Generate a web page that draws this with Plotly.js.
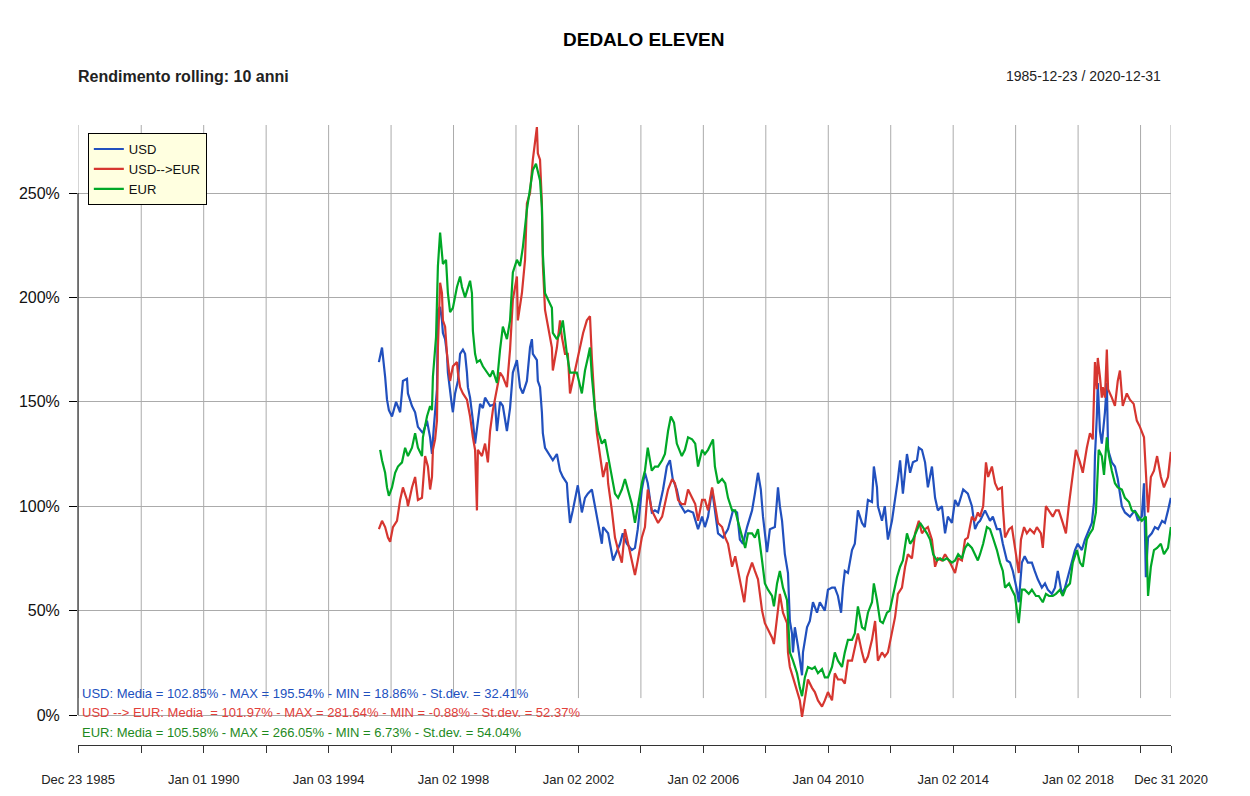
<!DOCTYPE html>
<html>
<head>
<meta charset="utf-8">
<script src="https://cdn.plot.ly/plotly-3.0.1.min.js"></script>
<style>
  body { margin: 0; background: #fff; }
  #chart { width: 1250px; height: 796px; }
</style>
</head>
<body>
<div id="chart"></div>
<script>
// Rendimento rolling 10 anni (in %), asse x in anni decimali
const usdYears = [1995.61,1995.71,1995.81,1995.87,1995.93,1996.03,1996.16,1996.29,1996.38,1996.51,1996.54,1996.67,1996.77,1996.86,1997.02,1997.15,1997.25,1997.31,1997.37,1997.47,1997.50,1997.57,1997.63,1997.66,1997.73,1997.79,1997.82,1997.89,1997.95,1997.98,1998.05,1998.14,1998.21,1998.30,1998.37,1998.43,1998.46,1998.53,1998.59,1998.62,1998.69,1998.75,1998.85,1998.94,1999.01,1999.17,1999.33,1999.39,1999.49,1999.58,1999.71,1999.81,1999.90,2000.03,2000.13,2000.22,2000.35,2000.45,2000.51,2000.54,2000.67,2000.70,2000.77,2000.83,2000.86,2000.93,2001.09,2001.18,2001.31,2001.41,2001.50,2001.63,2001.66,2001.73,2001.82,2001.95,2001.98,2002.11,2002.21,2002.30,2002.43,2002.53,2002.59,2002.75,2002.79,2002.95,2003.11,2003.23,2003.33,2003.42,2003.55,2003.71,2003.81,2003.90,2004.03,2004.13,2004.22,2004.35,2004.45,2004.55,2004.71,2004.83,2004.93,2005.02,2005.15,2005.25,2005.41,2005.51,2005.67,2005.83,2005.96,2006.05,2006.15,2006.28,2006.37,2006.47,2006.63,2006.79,2006.95,2007.08,2007.17,2007.27,2007.40,2007.56,2007.65,2007.75,2007.84,2007.91,2008.04,2008.13,2008.29,2008.39,2008.45,2008.52,2008.61,2008.71,2008.77,2008.84,2008.87,2008.93,2009.03,2009.16,2009.19,2009.32,2009.41,2009.51,2009.64,2009.73,2009.89,2009.99,2010.12,2010.21,2010.31,2010.41,2010.47,2010.53,2010.63,2010.76,2010.85,2010.95,2011.08,2011.17,2011.27,2011.40,2011.46,2011.56,2011.59,2011.72,2011.81,2011.91,2012.04,2012.14,2012.23,2012.30,2012.39,2012.52,2012.62,2012.71,2012.84,2012.90,2013.00,2013.10,2013.19,2013.32,2013.42,2013.51,2013.64,2013.74,2013.83,2013.96,2014.06,2014.16,2014.32,2014.47,2014.60,2014.70,2014.79,2014.86,2015.02,2015.18,2015.27,2015.40,2015.50,2015.59,2015.72,2015.82,2015.91,2016.04,2016.10,2016.20,2016.29,2016.39,2016.52,2016.61,2016.71,2016.84,2016.94,2017.03,2017.16,2017.26,2017.35,2017.48,2017.58,2017.67,2017.80,2017.90,2017.99,2018.12,2018.22,2018.31,2018.44,2018.51,2018.54,2018.60,2018.63,2018.70,2018.76,2018.86,2018.92,2018.96,2019.08,2019.18,2019.27,2019.40,2019.50,2019.66,2019.82,2019.92,2020.04,2020.11,2020.17,2020.24,2020.36,2020.46,2020.56,2020.69,2020.78,2020.88,2020.97];
const usdValues = [169,176,162,151,146,143,150,145,160,161,154,148,145,138,135,141,133,125,138,156,194,195.5,189,183,180,173,164,154,148,145,154,160,173,175,173,164,157,152,146,141,130,138,149,147,152,148,149,136,150,148,136,147,164,170,157,154,160,176,180,173,170,160,157,145,135,128,124,122,125,117,114,111,104,92,98,108,110,97,104,106,108,100,95,82,90,87,74,78,82,87,82,79,80,89,108,116,111,97,98,97,108,119,122,113,108,101,97,98,97,89,95,90,95,108,97,87,85,89,98,97,84,82,90,98,106,116,108,95,78,89,90,109,100,93,77,68,45,39,30,42,33,19,30,42,45,54,49,54,50,60,61,61,57,49,61,69,68,79,82,98,92,90,103,102,119,109,100,93,100,84,93,103,113,122,106,125,116,121,122,128,127,121,109,119,104,98,100,87,95,92,103,100,108,106,100,89,92,93,98,93,95,89,89,82,74,73,69,60,54,73,76,73,73,69,65,61,63,60,58,61,69,58,61,66,74,79,82,79,84,87,92,102,124,143,159,136,130,145,159,127,121,119,113,100,97,95,98,93,95,111,66,85,87,90,89,93,92,98,104];

const usdEurYears = [1995.61,1995.71,1995.81,1995.90,1995.97,1996.06,1996.19,1996.29,1996.38,1996.51,1996.54,1996.67,1996.77,1996.86,1996.99,1997.09,1997.18,1997.25,1997.31,1997.34,1997.41,1997.47,1997.50,1997.57,1997.63,1997.66,1997.73,1997.79,1997.89,1997.98,1998.11,1998.14,1998.21,1998.30,1998.43,1998.53,1998.62,1998.69,1998.75,1998.78,1998.91,1999.01,1999.10,1999.17,1999.26,1999.49,1999.58,1999.71,1999.81,1999.90,2000.03,2000.06,2000.19,2000.29,2000.35,2000.45,2000.54,2000.61,2000.67,2000.70,2000.77,2000.83,2000.86,2000.93,2001.02,2001.15,2001.18,2001.31,2001.41,2001.47,2001.57,2001.66,2001.73,2001.82,2001.98,2002.15,2002.27,2002.37,2002.43,2002.47,2002.53,2002.59,2002.69,2002.79,2002.91,2002.95,2003.07,2003.17,2003.27,2003.39,2003.49,2003.59,2003.71,2003.81,2003.90,2004.03,2004.13,2004.22,2004.35,2004.45,2004.55,2004.68,2004.77,2004.87,2005.00,2005.09,2005.19,2005.31,2005.41,2005.51,2005.64,2005.74,2005.83,2005.96,2006.05,2006.15,2006.28,2006.37,2006.47,2006.60,2006.70,2006.79,2006.92,2007.02,2007.12,2007.21,2007.31,2007.40,2007.56,2007.65,2007.75,2007.88,2007.97,2008.07,2008.13,2008.20,2008.26,2008.36,2008.45,2008.55,2008.68,2008.71,2008.77,2008.87,2009.00,2009.09,2009.16,2009.25,2009.35,2009.48,2009.57,2009.67,2009.80,2009.89,2009.99,2010.12,2010.21,2010.31,2010.44,2010.53,2010.63,2010.76,2010.85,2010.95,2011.08,2011.17,2011.27,2011.40,2011.50,2011.59,2011.72,2011.81,2011.91,2012.04,2012.14,2012.23,2012.36,2012.46,2012.55,2012.68,2012.78,2012.90,2013.00,2013.10,2013.19,2013.32,2013.42,2013.51,2013.64,2013.74,2013.90,2014.06,2014.16,2014.28,2014.38,2014.47,2014.60,2014.70,2014.79,2014.86,2014.96,2015.05,2015.12,2015.24,2015.34,2015.43,2015.56,2015.59,2015.66,2015.79,2015.88,2015.98,2016.10,2016.17,2016.27,2016.36,2016.46,2016.59,2016.68,2016.81,2016.87,2016.97,2017.07,2017.19,2017.29,2017.38,2017.51,2017.61,2017.70,2017.83,2017.93,2018.06,2018.15,2018.28,2018.38,2018.47,2018.54,2018.60,2018.63,2018.70,2018.76,2018.79,2018.86,2018.92,2018.96,2019.08,2019.18,2019.27,2019.34,2019.43,2019.56,2019.66,2019.78,2019.88,2019.98,2020.11,2020.17,2020.24,2020.33,2020.43,2020.53,2020.65,2020.75,2020.88,2020.97];
const usdEurValues = [89,93,90,85,83,90,93,103,109,103,100,109,114,103,104,124,119,108,114,127,132,141,176,207,202,189,186,173,160,167,169,164,157,154,151,143,133,127,98,127,124,130,121,136,146,164,162,157,175,199,210,189,202,218,245,250,266,274,281.6,269,266,245,216,194,186,176,165,176,189,181,173,173,154,160,171,183,189,191,171,159,146,135,124,114,121,111,98,85,79,73,89,82,73,67,74,85,90,108,98,95,92,95,101,108,113,111,103,101,101,108,104,101,93,103,103,98,109,101,92,90,85,82,71,76,69,61,54,66,73,69,65,50,44,41,39,37,34,48,58,49,44,30,23,18,11,7,-0.9,7,17,13,11,7,4,7,11,7,20,17,17,15,26,26,33,39,30,25,28,36,45,26,30,28,30,39,47,58,61,71,77,75,87,93,87,89,90,84,71,75,74,77,73,68,75,74,84,85,95,93,97,95,100,121,114,119,111,108,109,100,85,89,90,80,68,84,90,87,89,87,90,87,80,100,98,95,98,98,92,87,100,114,127,121,116,128,135,132,169,156,171,162,152,157,152,175,156,152,148,160,165,148,154,151,149,141,138,133,117,97,114,117,124,114,109,114,126];

const eurYears = [1995.65,1995.71,1995.81,1995.87,1995.93,1996.03,1996.13,1996.22,1996.35,1996.45,1996.54,1996.67,1996.77,1996.86,1996.99,1997.02,1997.15,1997.25,1997.31,1997.34,1997.44,1997.50,1997.57,1997.63,1997.66,1997.76,1997.82,1997.89,1997.98,1998.11,1998.21,1998.27,1998.37,1998.53,1998.59,1998.62,1998.69,1998.75,1998.85,1998.94,1999.07,1999.17,1999.26,1999.39,1999.49,1999.58,1999.71,1999.81,1999.90,2000.03,2000.13,2000.22,2000.35,2000.45,2000.54,2000.64,2000.70,2000.77,2000.83,2000.86,2000.93,2001.02,2001.15,2001.18,2001.31,2001.41,2001.50,2001.63,2001.73,2001.82,2001.95,2002.11,2002.21,2002.30,2002.37,2002.43,2002.53,2002.63,2002.75,2002.85,2002.95,2003.07,2003.17,2003.27,2003.39,2003.49,2003.59,2003.71,2003.81,2003.90,2004.03,2004.13,2004.22,2004.35,2004.45,2004.55,2004.68,2004.77,2004.87,2004.96,2005.06,2005.15,2005.31,2005.41,2005.51,2005.64,2005.74,2005.83,2005.96,2006.05,2006.15,2006.31,2006.37,2006.47,2006.60,2006.70,2006.79,2006.92,2007.02,2007.12,2007.24,2007.34,2007.43,2007.56,2007.65,2007.75,2007.88,2007.97,2008.07,2008.20,2008.26,2008.36,2008.45,2008.55,2008.68,2008.77,2008.87,2009.00,2009.09,2009.16,2009.25,2009.35,2009.48,2009.57,2009.67,2009.80,2009.89,2009.99,2010.12,2010.21,2010.31,2010.44,2010.53,2010.63,2010.76,2010.85,2010.95,2011.08,2011.17,2011.27,2011.40,2011.46,2011.56,2011.66,2011.75,2011.88,2011.97,2012.07,2012.20,2012.30,2012.39,2012.52,2012.62,2012.71,2012.84,2012.94,2013.03,2013.16,2013.26,2013.36,2013.48,2013.58,2013.68,2013.80,2013.96,2014.06,2014.16,2014.28,2014.38,2014.47,2014.60,2014.70,2014.79,2014.86,2014.96,2015.08,2015.18,2015.27,2015.40,2015.50,2015.59,2015.66,2015.79,2015.88,2015.98,2016.04,2016.10,2016.20,2016.29,2016.42,2016.52,2016.65,2016.74,2016.87,2016.97,2017.07,2017.19,2017.29,2017.42,2017.51,2017.61,2017.74,2017.83,2017.96,2018.06,2018.15,2018.28,2018.38,2018.47,2018.57,2018.63,2018.66,2018.76,2018.83,2018.92,2018.99,2019.08,2019.18,2019.27,2019.40,2019.50,2019.63,2019.72,2019.85,2019.94,2020.04,2020.17,2020.24,2020.33,2020.43,2020.53,2020.65,2020.75,2020.88,2020.97];
const eurValues = [127,122,116,109,105,109,116,119,121,128,124,128,135,128,124,133,143,148,146,162,181,215,231,221,216,218,202,193,195,205,210,205,200,208,202,184,173,169,170,167,164,162,165,159,175,186,180,189,212,218,215,224,242,253,261,264,260,256,243,221,202,199,195,183,180,183,189,173,164,164,164,154,165,171,176,162,146,136,130,132,124,113,106,104,108,113,108,101,92,100,111,117,128,117,119,119,122,125,136,143,140,130,124,127,133,132,130,119,127,125,127,132,119,111,113,111,104,98,98,92,85,80,87,87,85,89,74,63,60,57,52,63,69,61,55,30,26,20,13,9,18,23,22,23,20,22,18,18,23,30,26,23,30,36,36,39,52,42,41,49,54,63,55,45,44,49,50,57,66,71,74,87,82,84,89,92,90,87,84,77,74,75,74,75,73,74,77,75,80,82,80,77,74,77,82,90,89,85,79,73,69,61,63,60,57,50,44,60,60,58,60,57,57,54,58,57,57,58,60,57,61,63,73,79,73,71,84,87,89,97,116,127,124,115,133,124,117,111,109,108,104,102,98,97,95,93,95,57,71,79,80,82,77,80,90];

const seriesNames = ["USD", "USD-->EUR", "EUR"];
const lineColors = ["#2150BE", "#D63630", "#00A827"];
const statTexts = [
  "USD: Media = 102.85% - MAX = 195.54% - MIN = 18.86% - St.dev. = 32.41%",
  "USD --> EUR: Media  = 101.97% - MAX = 281.64% - MIN = -0.88% - St.dev. = 52.37%",
  "EUR: Media = 105.58% - MAX = 266.05% - MIN = 6.73% - St.dev. = 54.04%"
];
const statColors = ["#2150BE", "#E2403A", "#1E8A1E"];
const statLevels = [10.5, 1, -8.6];

// tick asse x: ogni 2 anni, etichetta ogni 4
const tickYears = [1985.975,1988,1990,1992,1994,1996,1998,2000,2002,2004,2006,2008,2010,2012,2014,2016,2018,2020,2020.975];
const tickLabels = ["Dec 23 1985","","Jan 01 1990","","Jan 03 1994","","Jan 02 1998","","Jan 02 2002","","Jan 02 2006","","Jan 04 2010","","Jan 02 2014","","Jan 02 2018","","Dec 31 2020"];
const yTicks = [0, 50, 100, 150, 200, 250];
const yLabels = ["0%", "50%", "100%", "150%", "200%", "250%"];

const xs = [usdYears, usdEurYears, eurYears];
const ys = [usdValues, usdEurValues, eurValues];

const traces = seriesNames.map(function(name, i) {
  return {
    x: xs[i],
    y: ys[i],
    name: name,
    type: "scatter",
    mode: "lines",
    line: { color: lineColors[i], width: 2.2 }
  };
});

const shapes = tickYears.map(function(t) {
  return {
    type: "line", layer: "below",
    xref: "x", yref: "y",
    x0: t, x1: t, y0: 8.1, y1: 282.6,
    line: { color: "#ABABAB", width: 1 }
  };
});
shapes.push({
  type: "line", layer: "above",
  xref: "paper", yref: "y",
  x0: 0, x1: 0, y0: 0, y1: 250,
  line: { color: "#000", width: 1 }
});

const annotations = statTexts.map(function(t, i) {
  return {
    text: t, xref: "paper", yref: "y",
    x: 0.002, y: statLevels[i],
    xanchor: "left", yanchor: "middle",
    showarrow: false,
    font: { size: 13, color: statColors[i] }
  };
});
annotations.push({
  text: "<b>Rendimento rolling: 10 anni</b>",
  xref: "paper", yref: "paper", x: -0.002, y: 1.079,
  xanchor: "left", yanchor: "middle", showarrow: false,
  font: { size: 16, color: "#222" }
});
annotations.push({
  text: "1985-12-23 / 2020-12-31",
  xref: "paper", yref: "paper", x: 0.9927, y: 1.079,
  xanchor: "right", yanchor: "middle", showarrow: false,
  font: { size: 14, color: "#222" }
});

const layout = {
  width: 1250,
  height: 796,
  margin: { l: 78, r: 79, t: 125, b: 51 },
  paper_bgcolor: "#fff",
  plot_bgcolor: "#fff",
  font: { family: "Liberation Sans, Arial, sans-serif", color: "#111" },
  title: {
    text: "<b>DEDALO ELEVEN</b>",
    xref: "container", yref: "container",
    x: 0.515, y: 0.95, xanchor: "center", yanchor: "middle",
    font: { size: 19, color: "#000" }
  },
  xaxis: {
    range: [1985.975, 2020.975],
    tickmode: "array",
    tickvals: tickYears,
    ticktext: tickLabels,
    ticks: "outside", ticklen: 7, tickcolor: "#333",
    showline: true, linecolor: "#333", linewidth: 1,
    showgrid: false, zeroline: false,
    ticklabelstandoff: 15,
    tickfont: { size: 13, color: "#222" }
  },
  yaxis: {
    range: [-14.37, 282.57],
    tickmode: "array",
    tickvals: yTicks,
    ticktext: yLabels,
    ticks: "outside", ticklen: 8, tickcolor: "#000",
    showline: false,
    showgrid: true, gridcolor: "#ABABAB", gridwidth: 1,
    zeroline: false,
    ticklabelstandoff: 6,
    tickfont: { size: 16, color: "#111" }
  },
  showlegend: true,
  legend: {
    x: 0.009, y: 0.987, xanchor: "left", yanchor: "top",
    bgcolor: "#FFFFE0", bordercolor: "#000", borderwidth: 1,
    font: { size: 13, color: "#111" },
    itemwidth: 30
  },
  shapes: shapes,
  annotations: annotations
};

Plotly.newPlot("chart", traces, layout, { displayModeBar: false, staticPlot: true });
</script>
</body>
</html>
